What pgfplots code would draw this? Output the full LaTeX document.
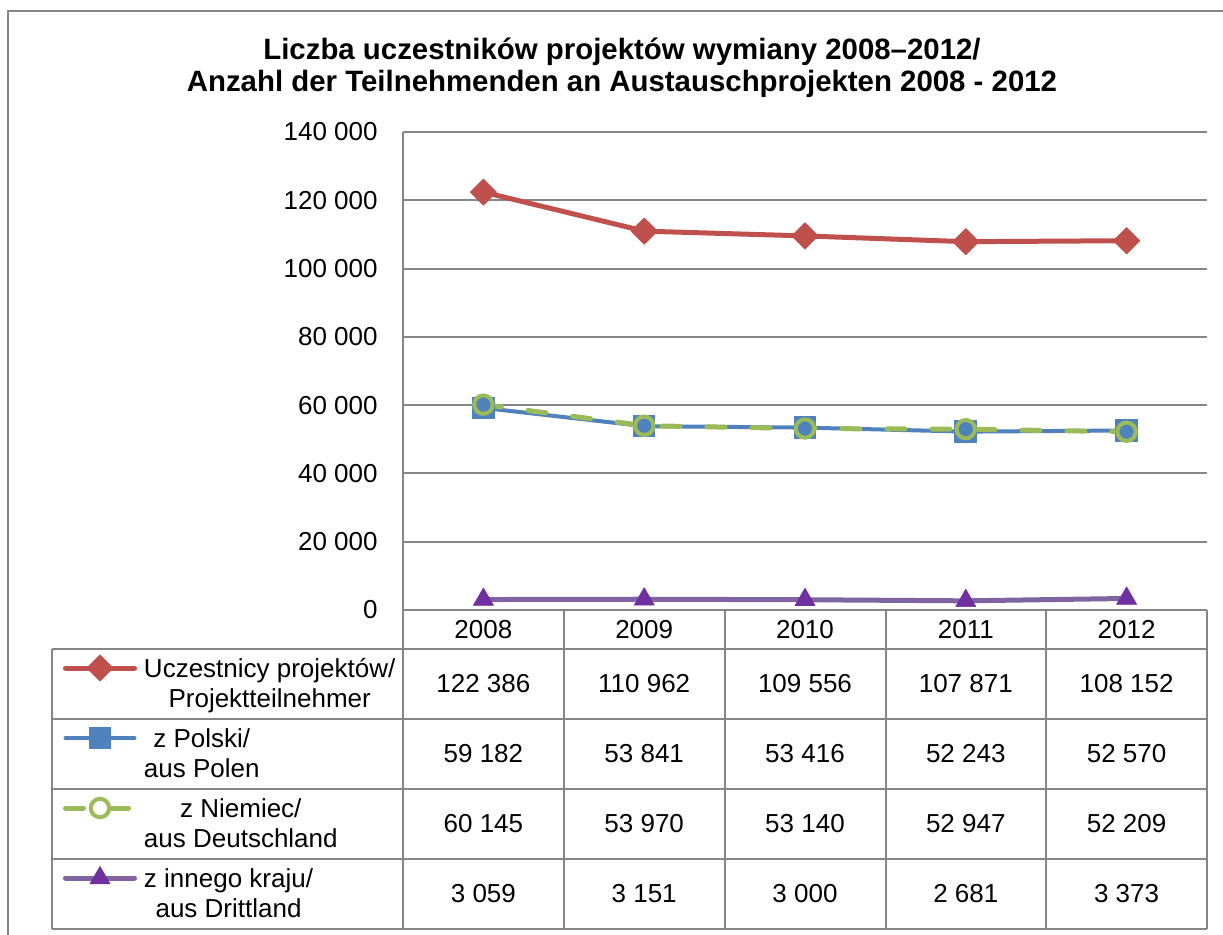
\documentclass[border=0pt]{standalone}
\usepackage{pgfplots}
\pgfplotsset{compat=1.18}
\usepackage{fontspec}
\setmainfont{Liberation Sans}
\definecolor{cRed}{HTML}{C0504D}
\definecolor{cBlue}{HTML}{4F81BD}
\definecolor{cGreen}{HTML}{9BBB59}
\definecolor{cPurple}{HTML}{8064A2}
\definecolor{cPurpleMark}{HTML}{7030A0}
\definecolor{cGrid}{HTML}{868686}
\begin{document}
\fontsize{13}{15}\selectfont
\begin{tikzpicture}[x=0.5pt,y=0.5pt]
\useasboundingbox (0,0) rectangle (1223,935);
% outer frame (cut at right and bottom)
\draw[cGrid, line width=1.2pt] (1240,924) -- (8,924) -- (8,-20);
% title
\node[font=\bfseries\fontsize{14.7}{16}\selectfont, align=center] at (622,867)
  {Liczba uczestników projektów wymiany 2008–2012/\\Anzahl der Teilnehmenden an Austauschprojekten 2008 - 2012};
\begin{axis}[
  at={(201.5pt,162.5pt)}, anchor=south west,
  scale only axis, width=402pt, height=239pt,
  xmin=-0.5, xmax=4.5, ymin=0, ymax=140000,
  xtick=\empty,
  scaled y ticks=false,
  ytick={0,20000,40000,60000,80000,100000,120000,140000},
  yticklabels={0,20 000,40 000,60 000,80 000,100 000,120 000,140 000},
  yticklabel style={inner sep=0pt, xshift=-12.5pt},
  ymajorgrids, grid style={cGrid, line width=1pt},
  axis line style={draw=none},
  major tick length=0pt,
  clip=false,
  legend image code/.code={%
    \path[draw=none, fill=none] (0pt,-5pt) rectangle (34.5pt,12pt);
    \draw[mark repeat=2,mark phase=2,#1] plot coordinates {(0pt,4.5pt) (17.25pt,4.5pt) (34.5pt,4.5pt)};
  },
  legend style={at={(-0.42289,-0.0900)}, anchor=north west, draw=none, fill=none,
    inner sep=0pt, outer sep=0pt, column sep=3.5pt, row sep=3.5pt,
    nodes={inner sep=0pt, text depth=, anchor=base west},
    cells={anchor=base west}},
]
\addplot[cRed, line width=2.5pt, line cap=round, line join=round, mark=square*, mark size=4.6pt,
  mark options={rotate=45, line width=0.5pt}]
  coordinates {(0,122386)(1,110962)(2,109556)(3,107871)(4,108152)};
\addlegendentry{\begin{tabular}[t]{@{}c@{}}Uczestnicy projektów/\\Projektteilnehmer\end{tabular}}
\addplot[cBlue, line width=2pt, line cap=round, line join=round, mark=square*, mark size=5.4pt,
  mark options={line width=0.5pt}]
  coordinates {(0,59182)(1,53841)(2,53416)(3,52243)(4,52570)};
\addlegendentry{\begin{tabular}[t]{@{}c@{}}z Polski/\\aus Polen\end{tabular}}
\addplot[cGreen, line width=2.5pt, line cap=round, line join=round, dash pattern=on 9pt off 13.5pt,
  mark=o, mark size=4.6pt, mark options={solid, line width=2pt}]
  coordinates {(0,60145)(1,53970)(2,53140)(3,52947)(4,52209)};
\addlegendentry{\begin{tabular}[t]{@{}c@{}}z Niemiec/\\aus Deutschland\end{tabular}}
\addplot[cPurple, line width=2.5pt, line cap=round, line join=round, mark=triangle*, mark size=5.8pt,
  mark options={draw=cPurpleMark, fill=cPurpleMark, line width=0.3pt}]
  coordinates {(0,3059)(1,3151)(2,3000)(3,2681)(4,3373)};
\addlegendentry{\begin{tabular}[t]{@{}c@{}}z innego kraju/\\aus Drittland\end{tabular}}
\end{axis}
% table grid
\begin{scope}[cGrid, line width=1pt]
\draw (403,803) -- (403,6);
\draw (403,325) -- (1207,325);
\foreach \yy in {286,216,146,76,6} \draw (52,\yy) -- (1207,\yy);
\draw (52,286) -- (52,6);
\foreach \xx in {564,725,886,1046,1207} \draw (\xx,325) -- (\xx,6);
\end{scope}
% header
\node at (483.4,305.5) {2008};
\node at (644.2,305.5) {2009};
\node at (805,305.5) {2010};
\node at (965.8,305.5) {2011};
\node at (1126.6,305.5) {2012};
% values
\node at (483.4,251) {122 386};
\node at (644.2,251) {110 962};
\node at (805,251) {109 556};
\node at (965.8,251) {107 871};
\node at (1126.6,251) {108 152};
\node at (483.4,181) {59 182};
\node at (644.2,181) {53 841};
\node at (805,181) {53 416};
\node at (965.8,181) {52 243};
\node at (1126.6,181) {52 570};
\node at (483.4,111) {60 145};
\node at (644.2,111) {53 970};
\node at (805,111) {53 140};
\node at (965.8,111) {52 947};
\node at (1126.6,111) {52 209};
\node at (483.4,41) {3 059};
\node at (644.2,41) {3 151};
\node at (805,41) {3 000};
\node at (965.8,41) {2 681};
\node at (1126.6,41) {3 373};
\end{tikzpicture}
\end{document}
